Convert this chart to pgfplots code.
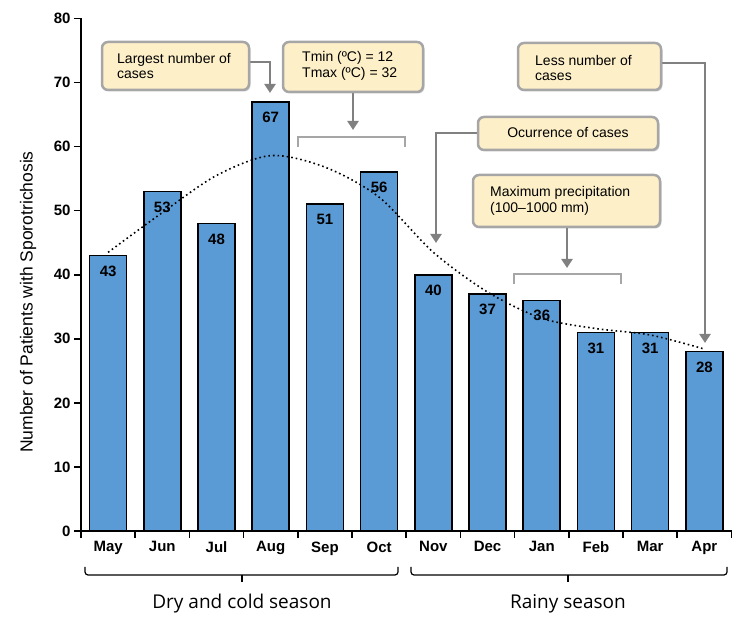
\documentclass[border=0pt]{standalone}
\usepackage{pgfplots}
\pgfplotsset{compat=1.18}
\usepackage{fontspec}
\setmainfont{Liberation Sans}
\newfontfamily\seasonfont{Open Sans}
\usetikzlibrary{arrows.meta,shadows}

\definecolor{barblue}{HTML}{5B9BD5}
\definecolor{boxfill}{HTML}{FDEFC8}
\definecolor{boxline}{HTML}{A6A6A6}
\definecolor{arrowgray}{HTML}{808080}

\begin{document}
\begin{tikzpicture}
\useasboundingbox (0,0) rectangle (750pt,624pt);
\begin{axis}[
    at={(81pt,93pt)}, anchor=south west,
    scale only axis, width=650.5pt, height=512.5pt,
    xmin=-0.5, xmax=11.5, ymin=0, ymax=80,
    axis lines=left, axis line style={line width=1.6pt, -},
    xtick={-0.5,0.5,...,11.5}, x tick label as interval,
    xticklabels={May,Jun,Jul,Aug,Sep,Oct,Nov,Dec,Jan,Feb,Mar,Apr},
    ytick={0,10,...,80},
    tick align=outside, major tick length=7pt,
    tick style={line width=1.6pt, black},
    ticklabel style={font=\fontsize{15}{16}\selectfont\bfseries},
    /pgf/number format/assume math mode=true,
  ]
  % monthly cases
  \addplot[ybar, bar width=37pt, fill=barblue, draw=black, line width=1.6pt,
    nodes near coords,
    nodes near coords style={anchor=north, yshift=-6pt, text=black,
      font=\fontsize{15}{16}\selectfont\bfseries}]
    coordinates {(0,43) (1,53) (2,48) (3,67) (4,51) (5,56)
                 (6,40) (7,37) (8,36) (9,31) (10,31) (11,28)};
  % trend line
  \addplot[black, line width=1.6pt, dash pattern=on 1.6pt off 3pt, smooth]
    coordinates {(0,43.5) (1,49.7) (2,55.5) (3,58.6) (4,56.8) (5,52.1)
                 (6,43.5) (7,37.3) (8,33.2) (9,31.6) (10,30.6) (11,28.4)};
\end{axis}

% annotations, in pixel coordinates of the reference
\begin{scope}[x=1pt, y=-1pt, yshift=624pt,
    arr/.style={draw=arrowgray, line width=2.5pt, -{Triangle[width=11pt,length=9pt]}},
    brk/.style={draw=boxline, line width=2pt},
    box/.style={draw=boxline, line width=2.5pt, fill=boxfill, rounded corners=6pt,
      drop shadow={opacity=0.35, shadow xshift=1.5pt, shadow yshift=-1.5pt}},
    txt/.style={font=\fontsize{14}{15.5}\selectfont, align=left, inner sep=0pt}]
  \node[rotate=90, font=\fontsize{17.5}{20}\selectfont] at (28,302)
    {Number of Patients with Sporotrichosis};

  \draw[arr] (249,62) -| (270,93);
  \draw[arr] (353,93) -- (353,130);
  \draw[arr] (661,63) -| (705,343);
  \draw[arr] (478,133) -| (436,243);
  \draw[arr] (567,227) -- (567,268);
  \draw[brk] (298,147) -- (298,137) -- (405,137) -- (405,147);
  \draw[brk] (514,284) -- (514,274) -- (621,274) -- (621,284);

  \draw[box] (102,42) rectangle (249,90);
  \node[txt, anchor=west] at (117,66) {Largest number of\\cases};
  \draw[box] (283,42) rectangle (423,92);
  \node[txt, anchor=west] at (302,66) {Tmin (ºC) = 12\\Tmax (ºC) = 32};
  \draw[box] (518,43) rectangle (661,90);
  \node[txt, anchor=west] at (535,68) {Less number of\\cases};
  \draw[box] (478,117) rectangle (658,150);
  \node[txt] at (568,133) {Ocurrence of cases};
  \draw[box] (473,175) rectangle (660,227);
  \node[txt, anchor=west] at (490,201) {Maximum precipitation\\(100–1000 mm)};

  % season brackets
  \draw[line width=1.2pt, rounded corners=3pt] (85,567) -- (85,575) -- (398,575) -- (398,567);
  \draw[line width=1.2pt] (242,575) -- (242,582);
  \draw[line width=1.2pt, rounded corners=3pt] (411,567) -- (411,575) -- (727,575) -- (727,567);
  \draw[line width=1.2pt] (568,575) -- (568,582);
  \node[font=\seasonfont\fontsize{19}{20}\selectfont] at (242,604) {Dry and cold season};
  \node[font=\seasonfont\fontsize{19}{20}\selectfont] at (568,604) {Rainy season};
\end{scope}
\end{tikzpicture}
\end{document}
